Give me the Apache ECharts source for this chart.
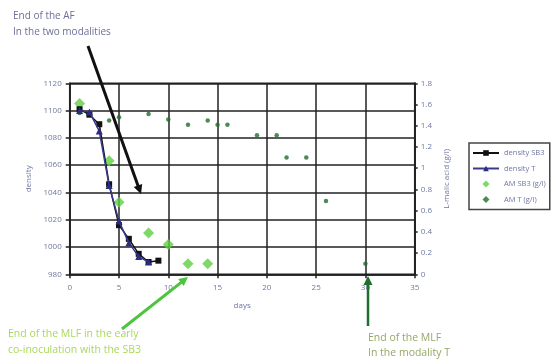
<!DOCTYPE html>
<html><head><meta charset="utf-8">
<script src="https://cdn.jsdelivr.net/npm/echarts@6/dist/echarts.min.js"></script>
<style>html,body{margin:0;padding:0;background:#fff}#c{width:554px;height:360px}</style>
</head><body><div id="c"></div>
<script>
var xTicks = [0,5,10,15,20,25,30,35];
var daysSB3 = [1,2,3,4,5,6,7,8,9];
var densitySB3 = [1101,1097,1090,1046,1016,1006,995,989,990];
var daysT = [1,2,3,4,5,6,7,8];
var densityT = [1100,1099,1085,1045,1019,1003,993,989];
var daysAMSB3 = [1,4,5,8,10,12,14];
var amSB3 = [1.61,1.07,0.68,0.39,0.28,0.1,0.1];
var daysAMT = [1,4,5,8,10,12,14,15,16,19,21,22,24,26,30];
var amT = [1.52,1.45,1.48,1.51,1.46,1.41,1.45,1.41,1.41,1.31,1.31,1.10,1.10,0.69,0.1];

function zip(a,b){return a.map(function(v,i){return [v,b[i]];});}
var font = 'Open Sans';
var labCol = '#6e78a0';

function arrow(x1,y1,x2,y2,color,w,hl,hw){
  var dx=x2-x1, dy=y2-y1, L=Math.sqrt(dx*dx+dy*dy), ux=dx/L, uy=dy/L;
  var bx=x2-ux*hl, by=y2-uy*hl, px=-uy, py=ux;
  return [
    {type:'line',shape:{x1:x1,y1:y1,x2:bx+ux*2,y2:by+uy*2},style:{stroke:color,lineWidth:w},z:100},
    {type:'polygon',shape:{points:[[x2,y2],[bx+px*hw,by+py*hw],[bx-px*hw,by-py*hw]]},style:{fill:color},z:100}
  ];
}

var chart = echarts.init(document.getElementById('c'));
var g = [];
g = g.concat(arrow(88,46,141,194,'#111',3,9,4.5));
g = g.concat(arrow(122,329,188,277,'#4cc43c',3,9,4.5));
g = g.concat(arrow(368,326,368,276,'#1f6e2b',2.5,9,4.5));
g.push({type:'text',left:13,top:8,style:{text:'End of the AF\nIn the two modalities',fill:'#6c6f98',font:'10px "Open Sans"',lineHeight:16},z:100});
g.push({type:'text',left:8,top:326,style:{text:'End of the MLF in the early\nco-inoculation with the SB3',fill:'#a9d85c',font:'10.5px "Open Sans"',lineHeight:16},z:100});
g.push({type:'text',left:368,top:331,style:{text:'End of the MLF\nIn the modality T',fill:'#94a866',font:'10.5px "Open Sans"',lineHeight:15,align:'center'},z:100});

chart.setOption({
  animation:false,
  grid:{left:69.7,right:139.3,top:83.3,bottom:85.7,show:true,borderColor:'#222',borderWidth:1.5},
  legend:{orient:'vertical',left:469,top:143,width:84,padding:[6,4,6,3],itemGap:7.5,itemWidth:26,itemHeight:7,
    borderColor:'#444',borderWidth:1.5,textStyle:{fontSize:7.5,color:'#6e78a0',fontFamily:font},
    data:[{name:'density SB3'},{name:'density T'},
      {name:'AM SB3 (g/l)',icon:'path://M5,0 L10,5 L5,10 L0,5 Z'},
      {name:'AM T (g/l)',icon:'path://M5,0 L10,5 L5,10 L0,5 Z'}]},
  xAxis:{type:'value',min:0,max:35,interval:5,name:'days',nameLocation:'middle',nameGap:27,
    nameTextStyle:{fontSize:8,color:labCol,fontFamily:font},
    axisLine:{lineStyle:{color:'#222',width:1.5}},axisTick:{show:true,length:4,lineStyle:{color:'#222',width:1.5}},
    axisLabel:{fontSize:8,color:labCol,fontFamily:font,margin:9},
    splitLine:{lineStyle:{color:'#222',width:1.5}}},
  yAxis:[
    {type:'value',min:980,max:1120,interval:20,name:'density',nameLocation:'middle',nameGap:33,
     nameTextStyle:{fontSize:8,color:labCol,fontFamily:font},
     axisLine:{show:true,lineStyle:{color:'#222',width:1.5}},axisTick:{show:true,length:4,lineStyle:{color:'#222',width:1.5}},
     axisLabel:{fontSize:8,color:labCol,fontFamily:font,margin:8,formatter:function(v){return String(v);}},
     splitLine:{lineStyle:{color:'#222',width:1.5}}},
    {type:'value',min:0,max:1.8,interval:0.2,position:'right',name:'L-malic acid (g/l)',nameLocation:'middle',nameGap:28,
     nameRotate:90,nameTextStyle:{fontSize:8,color:labCol,fontFamily:font},
     axisLine:{show:true,lineStyle:{color:'#222',width:2}},axisTick:{show:true,length:3,lineStyle:{color:'#222',width:1.5}},
     axisLabel:{fontSize:8,color:labCol,fontFamily:font,margin:6,formatter:function(v){return String(Math.round(v*10)/10);}},
     splitLine:{show:false}}
  ],
  series:[
    {name:'density SB3',type:'line',data:zip(daysSB3,densitySB3),symbol:'rect',symbolSize:6,
     lineStyle:{color:'#111',width:1.5},itemStyle:{color:'#111'},z:5},
    {name:'density T',type:'line',data:zip(daysT,densityT),symbol:'triangle',symbolSize:7,
     lineStyle:{color:'#3a3a8c',width:1.5},itemStyle:{color:'#2c2c80'},z:6},
    {name:'AM SB3 (g/l)',type:'scatter',yAxisIndex:1,data:zip(daysAMSB3,amSB3),symbol:'diamond',symbolSize:11,
     itemStyle:{color:'#5fd040'},z:4},
    {name:'AM T (g/l)',type:'scatter',yAxisIndex:1,data:zip(daysAMT,amT),symbol:'circle',symbolSize:4.5,
     itemStyle:{color:'#1f6e2b'},z:4}
  ],
  graphic:g
});
</script></body></html>
